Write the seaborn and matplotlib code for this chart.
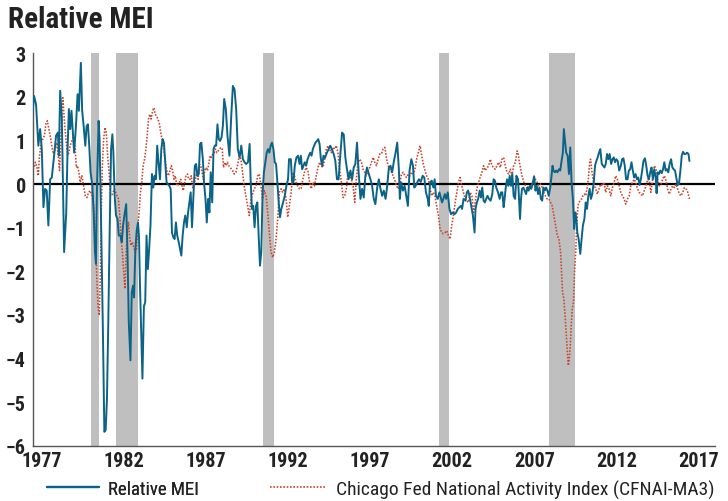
import numpy as np
import pandas as pd
import seaborn as sns
import matplotlib.pyplot as plt
from matplotlib import font_manager
from matplotlib.lines import Line2D

# Relative MEI (monthly)
mei_year = [1976.45, 1976.53, 1976.65, 1976.79, 1976.90, 1977.00, 1977.10, 1977.20, 1977.30, 1977.40,
            1977.51, 1977.61, 1977.75, 1977.87, 1977.98, 1978.04, 1978.12, 1978.22, 1978.36, 1978.49,
            1978.57, 1978.65, 1978.73, 1978.81, 1978.89, 1978.97, 1979.08, 1979.18, 1979.26, 1979.38,
            1979.46, 1979.55, 1979.65, 1979.73, 1979.81, 1979.89, 1979.97, 1980.08, 1980.16, 1980.24,
            1980.30, 1980.36, 1980.46, 1980.52, 1980.63, 1980.73, 1980.81, 1980.89, 1980.97, 1981.05,
            1981.14, 1981.22, 1981.30, 1981.36, 1981.44, 1981.52, 1981.61, 1981.69, 1981.79, 1981.87,
            1981.95, 1982.03, 1982.14, 1982.22, 1982.30, 1982.40, 1982.48, 1982.56, 1982.62, 1982.70,
            1982.78, 1982.86, 1982.92, 1982.98, 1983.05, 1983.13, 1983.22, 1983.30, 1983.38, 1983.46,
            1983.54, 1983.62, 1983.71, 1983.79, 1983.87, 1983.95, 1984.03, 1984.11, 1984.20, 1984.28,
            1984.36, 1984.44, 1984.52, 1984.60, 1984.68, 1984.77, 1984.85, 1984.93, 1985.01, 1985.09,
            1985.17, 1985.25, 1985.34, 1985.42, 1985.50, 1985.58, 1985.66, 1985.74, 1985.83, 1985.91,
            1985.99, 1986.07, 1986.15, 1986.23, 1986.32, 1986.40, 1986.48, 1986.56, 1986.64, 1986.72,
            1986.81, 1986.89, 1986.97, 1987.05, 1987.13, 1987.21, 1987.29, 1987.38, 1987.46, 1987.54,
            1987.62, 1987.70, 1987.78, 1987.86, 1987.95, 1988.03, 1988.11, 1988.21, 1988.31, 1988.43,
            1988.54, 1988.64, 1988.74, 1988.84, 1988.94, 1989.05, 1989.15, 1989.25, 1989.35, 1989.45,
            1989.56, 1989.66, 1989.72, 1989.80, 1989.88, 1989.96, 1990.05, 1990.13, 1990.21, 1990.29,
            1990.37, 1990.45, 1990.53, 1990.62, 1990.70, 1990.78, 1990.86, 1990.94, 1991.02, 1991.11,
            1991.19, 1991.27, 1991.35, 1991.43, 1991.51, 1991.59, 1991.70, 1991.80, 1991.90, 1992.00,
            1992.06, 1992.17, 1992.25, 1992.33, 1992.41, 1992.51, 1992.61, 1992.70, 1992.78, 1992.86,
            1992.94, 1993.02, 1993.10, 1993.19, 1993.27, 1993.35, 1993.43, 1993.51, 1993.59, 1993.67,
            1993.76, 1993.84, 1993.92, 1994.00, 1994.08, 1994.16, 1994.25, 1994.37, 1994.47, 1994.57,
            1994.67, 1994.78, 1994.88, 1994.98, 1995.08, 1995.18, 1995.29, 1995.39, 1995.49, 1995.59,
            1995.69, 1995.80, 1995.90, 1996.00, 1996.10, 1996.20, 1996.30, 1996.41, 1996.51, 1996.61,
            1996.71, 1996.81, 1996.92, 1997.02, 1997.12, 1997.22, 1997.32, 1997.43, 1997.53, 1997.63,
            1997.73, 1997.83, 1997.94, 1998.04, 1998.14, 1998.24, 1998.34, 1998.45, 1998.55, 1998.65,
            1998.75, 1998.81, 1998.89, 1999.00, 1999.10, 1999.20, 1999.30, 1999.40, 1999.51, 1999.61,
            1999.69, 1999.77, 1999.87, 1999.97, 2000.08, 2000.20, 2000.30, 2000.40, 2000.51, 2000.57,
            2000.65, 2000.75, 2000.85, 2000.93, 2001.01, 2001.12, 2001.22, 2001.32, 2001.38, 2001.46,
            2001.55, 2001.63, 2001.73, 2001.83, 2001.93, 2002.03, 2002.14, 2002.24, 2002.34, 2002.44,
            2002.54, 2002.60, 2002.69, 2002.81, 2002.89, 2002.97, 2003.05, 2003.16, 2003.26, 2003.36,
            2003.42, 2003.50, 2003.58, 2003.67, 2003.75, 2003.83, 2003.91, 2003.99, 2004.07, 2004.15,
            2004.24, 2004.34, 2004.44, 2004.52, 2004.60, 2004.68, 2004.79, 2004.89, 2004.97, 2005.05,
            2005.13, 2005.19, 2005.26, 2005.34, 2005.42, 2005.50, 2005.58, 2005.66, 2005.74, 2005.83,
            2005.91, 2006.01, 2006.13, 2006.19, 2006.25, 2006.33, 2006.42, 2006.50, 2006.58, 2006.66,
            2006.74, 2006.82, 2006.91, 2006.99, 2007.07, 2007.15, 2007.23, 2007.31, 2007.40, 2007.48,
            2007.56, 2007.64, 2007.72, 2007.80, 2007.88, 2007.97, 2008.05, 2008.11, 2008.17, 2008.25,
            2008.33, 2008.41, 2008.50, 2008.58, 2008.66, 2008.74, 2008.80, 2008.86, 2008.94, 2009.03,
            2009.11, 2009.19, 2009.27, 2009.35, 2009.43, 2009.50, 2009.56, 2009.62, 2009.70, 2009.80,
            2009.88, 2009.96, 2010.05, 2010.13, 2010.21, 2010.29, 2010.37, 2010.45, 2010.53, 2010.62,
            2010.70, 2010.78, 2010.86, 2010.94, 2011.02, 2011.11, 2011.19, 2011.27, 2011.35, 2011.43,
            2011.51, 2011.59, 2011.68, 2011.76, 2011.84, 2011.92, 2012.00, 2012.08, 2012.17, 2012.27,
            2012.35, 2012.43, 2012.51, 2012.59, 2012.68, 2012.76, 2012.84, 2012.92, 2013.00, 2013.08,
            2013.17, 2013.25, 2013.33, 2013.41, 2013.49, 2013.57, 2013.65, 2013.74, 2013.82, 2013.90,
            2013.98, 2014.06, 2014.14, 2014.22, 2014.31, 2014.39, 2014.45, 2014.51, 2014.59, 2014.67,
            2014.76, 2014.84, 2014.92, 2015.00, 2015.08, 2015.16, 2015.24, 2015.33, 2015.41, 2015.49,
            2015.57, 2015.65, 2015.73, 2015.81, 2015.90, 2015.98, 2016.06, 2016.14, 2016.22, 2016.30,
            2016.39, 2016.45]
mei_val = [1.68, 2.02, 1.83, 0.88, 1.26, 0.80, -0.53, -0.11, -0.15, -0.95,
           0.11, 0.15, 0.65, 1.11, 1.18, 0.65, 2.14, 1.53, -1.56, -0.65,
           0.80, 1.72, 1.26, 1.68, 1.18, 0.72, 1.33, 2.06, 1.68, 2.78,
           1.68, 1.33, 0.88, 1.33, 1.37, 0.88, 0.27, -0.04, -0.65, -1.56,
           -1.83, -0.11, 1.45, 1.03, -1.26, -3.55, -5.68, -5.64, -4.92, -3.17,
           -0.95, 0.80, 1.14, 0.72, -0.27, -0.72, -0.80, -1.18, -1.18, -1.33,
           -0.95, -0.72, -0.46, -1.56, -3.17, -4.04, -2.48, -2.33, -2.60, -1.50,
           -1.07, -0.88, -1.20, -2.30, -3.30, -4.46, -2.80, -2.71, -1.18, -1.95,
           -1.49, -0.95, 0.23, -0.08, 0.19, 0.11, 0.88, 0.50, 0.11, 0.80,
           1.03, 0.95, 0.50, 0.04, 0.00, -0.04, -0.11, -1.11, -1.22, -1.26,
           -0.88, -1.18, -1.33, -1.49, -1.64, -1.18, -0.88, -0.72, -0.99, -0.65,
           -0.42, -0.19, -0.99, -0.34, 0.42, 0.46, 0.19, 0.23, 0.92, 0.95,
           0.57, 0.00, -0.34, -0.88, -0.34, -0.65, 0.27, -0.42, 0.80, 0.88,
           0.88, 1.37, 1.03, 0.99, 1.07, 1.33, 1.95, 1.72, 1.11, 0.65,
           1.56, 2.25, 2.17, 1.72, 0.80, 0.61, 0.88, 0.57, 0.50, 0.46,
           0.50, 0.92, 0.11, -0.57, -0.50, -0.99, -0.50, -0.42, -1.18, -1.87,
           -1.56, -0.19, 0.27, 0.50, 0.72, 0.80, 0.72, 0.88, 0.95, 0.80,
           0.50, 0.46, 0.04, -0.42, -0.76, -0.57, -0.42, -0.27, -0.04, 0.11,
           0.57, 0.57, 0.04, 0.04, 0.42, 0.61, 0.65, 0.46, 0.65, 0.34,
           0.42, 0.50, 0.42, 0.57, 0.65, 0.72, 0.65, 0.80, 0.88, 0.95,
           0.99, 1.03, 0.92, 0.57, 0.42, 0.65, 0.60, 0.72, 0.80, 0.88,
           0.80, 0.69, 0.53, 0.11, 0.11, 0.65, 1.18, 1.14, 0.61, 0.34,
           0.11, 0.31, 0.11, 0.38, 0.46, 0.95, 0.27, -0.34, -0.11, -0.31,
           0.19, 0.38, 0.23, 0.11, -0.04, -0.34, -0.46, -0.08, 0.11, -0.11,
           -0.27, -0.15, -0.34, -0.04, 0.38, 0.42, 0.27, 0.53, 0.72, 0.95,
           0.34, -0.34, 0.04, -0.15, -0.04, -0.27, -0.50, 0.31, 0.57, 0.42,
           -0.08, -0.04, 0.04, 0.11, 0.05, 0.19, 0.15, -0.19, -0.34, -0.50,
           0.04, 0.08, -0.08, 0.11, -0.27, -0.34, -0.19, -0.34, -0.42, -0.34,
           -0.23, -0.34, -0.19, -0.57, -0.69, -0.65, -0.69, -0.65, -0.57, -0.53,
           -0.50, -0.57, -0.34, -0.38, -0.19, -0.15, -0.27, -0.50, -0.72, -1.11,
           -0.57, -0.42, -0.34, -0.15, -0.31, -0.08, -0.38, -0.42, -0.34, -0.27,
           -0.34, -0.38, -0.23, 0.11, 0.08, -0.08, -0.19, -0.34, -0.19, -0.19,
           -0.53, -0.34, -0.08, 0.11, -0.04, 0.19, -0.04, 0.23, -0.27, -0.34,
           0.19, 0.11, -0.80, -0.34, -0.11, -0.08, -0.15, -0.23, -0.08, -0.15,
           -0.04, -0.11, 0.04, 0.18, -0.15, -0.04, -0.23, -0.08, -0.34, -0.38,
           -0.08, -0.15, -0.08, -0.15, -0.27, -0.08, 0.19, 0.42, 0.31, 0.27,
           0.31, 0.27, 0.34, 0.31, 0.53, 0.72, 1.26, 1.03, 0.72, 0.65,
           0.23, 0.84, 0.04, -0.34, -1.03, -0.65, -0.80, -1.11, -1.26, -1.60,
           -1.26, -0.95, -0.80, -0.42, -0.57, -0.27, -0.11, -0.34, -0.23, 0.04,
           0.42, 0.53, 0.61, 0.72, 0.80, 0.46, 0.42, 0.38, 0.46, 0.69,
           0.57, 0.69, 0.46, 0.57, 0.61, 0.50, 0.57, 0.53, 0.31, 0.42,
           0.57, 0.59, 0.42, 0.11, 0.11, 0.31, 0.34, 0.50, 0.31, 0.15,
           0.23, 0.11, 0.15, -0.02, 0.11, 0.31, 0.53, 0.59, 0.42, 0.19,
           0.11, 0.27, 0.38, 0.11, 0.34, 0.15, -0.21, 0.27, 0.23, 0.31,
           0.25, 0.34, 0.50, 0.31, 0.34, 0.27, 0.46, 0.57, 0.38, 0.34,
           0.31, 0.15, -0.02, 0.00, 0.31, 0.65, 0.74, 0.69, 0.69, 0.72,
           0.69, 0.53]

# Chicago Fed National Activity Index, 3-month average
cfnai_year = [1976.45, 1976.53, 1976.61, 1976.69, 1976.79, 1976.85, 1976.96, 1977.06, 1977.16, 1977.26,
              1977.34, 1977.43, 1977.51, 1977.61, 1977.71, 1977.81, 1977.92, 1978.02, 1978.08, 1978.16,
              1978.22, 1978.28, 1978.34, 1978.40, 1978.49, 1978.57, 1978.65, 1978.73, 1978.83, 1978.93,
              1979.04, 1979.10, 1979.18, 1979.26, 1979.34, 1979.44, 1979.55, 1979.65, 1979.75, 1979.85,
              1979.95, 1980.06, 1980.16, 1980.26, 1980.34, 1980.42, 1980.50, 1980.57, 1980.63, 1980.69,
              1980.77, 1980.85, 1980.93, 1981.01, 1981.10, 1981.18, 1981.26, 1981.34, 1981.42, 1981.50,
              1981.58, 1981.67, 1981.75, 1981.83, 1981.91, 1981.99, 1982.07, 1982.14, 1982.20, 1982.28,
              1982.36, 1982.44, 1982.52, 1982.60, 1982.69, 1982.77, 1982.85, 1982.93, 1983.01, 1983.09,
              1983.17, 1983.26, 1983.34, 1983.42, 1983.50, 1983.58, 1983.66, 1983.75, 1983.83, 1983.91,
              1983.99, 1984.07, 1984.15, 1984.23, 1984.32, 1984.40, 1984.48, 1984.56, 1984.64, 1984.72,
              1984.81, 1984.89, 1984.97, 1985.05, 1985.13, 1985.21, 1985.30, 1985.38, 1985.46, 1985.54,
              1985.62, 1985.70, 1985.79, 1985.87, 1985.95, 1986.03, 1986.11, 1986.19, 1986.27, 1986.36,
              1986.44, 1986.52, 1986.60, 1986.68, 1986.76, 1986.84, 1986.93, 1987.01, 1987.09, 1987.17,
              1987.25, 1987.33, 1987.42, 1987.50, 1987.58, 1987.66, 1987.74, 1987.82, 1987.91, 1987.99,
              1988.07, 1988.15, 1988.23, 1988.31, 1988.39, 1988.48, 1988.62, 1988.72, 1988.82, 1988.92,
              1989.03, 1989.13, 1989.23, 1989.33, 1989.43, 1989.54, 1989.64, 1989.74, 1989.84, 1989.94,
              1990.05, 1990.15, 1990.25, 1990.35, 1990.45, 1990.56, 1990.66, 1990.76, 1990.86, 1990.96,
              1991.07, 1991.17, 1991.27, 1991.37, 1991.47, 1991.58, 1991.68, 1991.78, 1991.88, 1991.98,
              1992.08, 1992.19, 1992.29, 1992.39, 1992.49, 1992.59, 1992.70, 1992.80, 1992.90, 1993.00,
              1993.10, 1993.21, 1993.31, 1993.41, 1993.51, 1993.61, 1993.72, 1993.82, 1993.92, 1994.02,
              1994.12, 1994.23, 1994.33, 1994.43, 1994.53, 1994.63, 1994.73, 1994.84, 1994.94, 1995.04,
              1995.14, 1995.25, 1995.35, 1995.45, 1995.55, 1995.65, 1995.75, 1995.86, 1995.96, 1996.06,
              1996.16, 1996.26, 1996.37, 1996.47, 1996.57, 1996.67, 1996.77, 1996.88, 1996.98, 1997.08,
              1997.18, 1997.28, 1997.39, 1997.49, 1997.59, 1997.69, 1997.79, 1997.90, 1998.00, 1998.10,
              1998.20, 1998.30, 1998.40, 1998.51, 1998.61, 1998.71, 1998.81, 1998.91, 1999.02, 1999.12,
              1999.22, 1999.32, 1999.42, 1999.53, 1999.63, 1999.73, 1999.83, 1999.93, 2000.04, 2000.14,
              2000.24, 2000.34, 2000.44, 2000.55, 2000.65, 2000.75, 2000.85, 2000.95, 2001.05, 2001.16,
              2001.26, 2001.36, 2001.46, 2001.57, 2001.67, 2001.77, 2001.87, 2001.97, 2002.07, 2002.18,
              2002.28, 2002.38, 2002.48, 2002.58, 2002.79, 2002.99, 2003.09, 2003.20, 2003.30, 2003.40,
              2003.50, 2003.60, 2003.81, 2003.91, 2004.01, 2004.22, 2004.32, 2004.42, 2004.62, 2004.83,
              2004.93, 2005.03, 2005.13, 2005.23, 2005.34, 2005.44, 2005.54, 2005.64, 2005.74, 2005.85,
              2005.95, 2006.01, 2006.09, 2006.17, 2006.25, 2006.36, 2006.46, 2006.56, 2006.66, 2006.76,
              2006.86, 2006.97, 2007.07, 2007.17, 2007.27, 2007.38, 2007.48, 2007.58, 2007.68, 2007.78,
              2007.89, 2007.99, 2008.09, 2008.19, 2008.29, 2008.40, 2008.50, 2008.60, 2008.66, 2008.72,
              2008.80, 2008.86, 2008.94, 2009.01, 2009.07, 2009.13, 2009.19, 2009.25, 2009.31, 2009.39,
              2009.45, 2009.52, 2009.58, 2009.66, 2009.72, 2009.80, 2009.88, 2009.96, 2010.05, 2010.13,
              2010.21, 2010.29, 2010.37, 2010.43, 2010.49, 2010.58, 2010.66, 2010.74, 2010.84, 2010.94,
              2011.04, 2011.15, 2011.25, 2011.35, 2011.45, 2011.55, 2011.66, 2011.76, 2011.86, 2011.96,
              2012.06, 2012.17, 2012.27, 2012.37, 2012.47, 2012.57, 2012.68, 2012.78, 2012.88, 2012.98,
              2013.08, 2013.18, 2013.29, 2013.39, 2013.49, 2013.59, 2013.70, 2013.80, 2013.90, 2014.00,
              2014.10, 2014.21, 2014.31, 2014.41, 2014.51, 2014.61, 2014.71, 2014.82, 2014.92, 2015.02,
              2015.12, 2015.22, 2015.33, 2015.43, 2015.53, 2015.63, 2015.73, 2015.84, 2015.94, 2016.04,
              2016.14, 2016.24, 2016.35, 2016.45]
cfnai_val = [0.34, 0.38, 0.50, 0.42, 0.19, 0.61, 0.95, 1.03, 1.11, 1.41,
             1.45, 1.26, 1.11, 0.88, 0.69, 0.80, 0.95, 0.57, 0.31, 1.03,
             1.64, 1.98, 1.64, 1.33, 0.95, 0.65, 0.72, 0.88, 0.99, 1.07,
             0.80, 0.38, 0.42, 0.27, 0.04, 0.19, -0.04, -0.27, -0.31, -0.19,
             -0.15, -0.27, -0.50, -1.11, -2.02, -2.78, -3.01, -2.02, -0.50, 0.42,
             1.03, 1.30, 1.18, 0.65, 0.27, -0.27, -0.27, -0.19, -0.11, -0.19,
             -0.27, -0.34, -0.72, -1.26, -1.56, -2.02, -2.40, -1.56, -1.18, -0.88,
             -1.26, -1.41, -1.33, -1.45, -1.56, -1.49, -0.95, -0.65, -0.19, 0.04,
             0.42, 0.57, 0.80, 1.11, 1.49, 1.60, 1.49, 1.68, 1.75, 1.60,
             1.56, 1.49, 1.41, 1.22, 1.03, 0.88, 0.65, 0.42, 0.27, 0.19,
             0.31, 0.42, 0.31, 0.11, 0.19, 0.00, -0.04, 0.04, 0.11, -0.04,
             -0.15, 0.04, 0.19, 0.23, 0.11, 0.11, 0.19, -0.08, 0.00, 0.11,
             0.27, 0.11, 0.46, 0.42, 0.27, 0.11, 0.31, 0.38, 0.31, 0.46,
             0.65, 0.61, 0.69, 0.72, 0.80, 0.72, 0.76, 0.80, 0.84, 0.80,
             0.38, 0.50, 0.42, 0.50, 0.42, 0.38, 0.31, 0.23, 0.27, 0.42,
             0.65, 0.57, 0.27, -0.04, -0.27, -0.50, -0.72, -0.34, -0.23, -0.11,
             -0.04, 0.19, 0.23, -0.04, -0.34, -0.15, -0.27, -0.65, -1.11, -1.56,
             -1.68, -1.56, -1.26, -0.80, -0.19, -0.11, -0.19, -0.11, -0.34, -0.76,
             -0.50, -0.19, 0.27, 0.19, 0.04, -0.04, -0.11, -0.11, 0.11, 0.27,
             0.38, 0.31, 0.04, -0.11, 0.04, -0.04, 0.19, 0.38, 0.50, 0.42,
             0.38, 0.57, 0.80, 0.88, 0.80, 0.72, 0.84, 0.80, 0.88, 0.72,
             0.34, 0.04, -0.31, -0.27, -0.11, 0.27, 0.19, 0.11, -0.04, -0.42,
             0.11, 0.50, 0.57, 0.50, 0.34, 0.27, 0.19, 0.34, 0.38, 0.50,
             0.61, 0.50, 0.42, 0.57, 0.69, 0.69, 0.80, 0.84, 0.57, 0.42,
             0.34, 0.27, 0.19, 0.08, -0.04, -0.11, 0.04, 0.23, 0.27, 0.19,
             0.15, 0.23, 0.19, 0.27, 0.23, 0.34, 0.57, 0.72, 0.88, 0.65,
             0.46, 0.31, 0.19, 0.11, -0.11, -0.27, -0.19, -0.27, -0.50, -0.72,
             -1.03, -1.11, -1.14, -1.11, -1.07, -1.18, -1.26, -0.95, -0.72, -0.42,
             -0.19, 0.04, 0.15, -0.04, -0.34, -0.42, -0.19, -0.27, -0.65, -0.42,
             -0.11, 0.04, 0.27, 0.42, 0.31, 0.42, 0.57, 0.42, 0.34, 0.50,
             0.38, 0.57, 0.61, 0.42, 0.27, 0.23, 0.34, 0.19, 0.42, 0.50,
             0.76, 0.72, 0.50, 0.34, 0.19, 0.04, -0.04, -0.11, -0.04, -0.11,
             0.00, 0.04, 0.11, 0.04, -0.04, 0.00, -0.08, -0.19, -0.27, -0.34,
             -0.34, -0.42, -0.50, -0.72, -0.95, -1.18, -1.26, -1.56, -2.02, -2.48,
             -2.63, -2.94, -3.40, -3.78, -4.16, -4.01, -3.70, -3.24, -2.86, -2.71,
             -2.02, -1.56, -0.95, -0.50, -0.42, -0.38, -0.34, -0.27, -0.23, -0.27,
             -0.11, 0.11, 0.50, 0.57, 0.34, 0.11, -0.04, -0.11, -0.23, -0.11,
             0.00, -0.04, 0.04, -0.19, -0.04, -0.11, -0.27, -0.08, 0.04, 0.19,
             0.11, -0.04, -0.19, -0.27, -0.34, -0.46, -0.34, -0.27, -0.04, 0.04,
             0.11, 0.04, -0.11, -0.19, -0.23, -0.27, -0.15, -0.04, 0.11, 0.08,
             -0.19, 0.11, 0.42, 0.34, 0.11, -0.04, 0.00, 0.11, 0.19, 0.08,
             -0.11, -0.23, -0.11, -0.04, -0.08, 0.00, -0.11, -0.23, -0.27, -0.19,
             -0.08, -0.11, -0.19, -0.34]

# NBER recessions
rec_start = [1980.00, 1981.50, 1990.50, 2001.17, 2007.92]
rec_end = [1980.50, 1982.83, 1991.17, 2001.83, 2009.50]

x_ticks = [1977, 1982, 1987, 1992, 1997, 2002, 2007, 2012, 2017]
y_ticks = [-6, -5, -4, -3, -2, -1, 0, 1, 2, 3]

mei_color = "#0b6488"
cfnai_color = "#c9442c"

sns.set_style("white")

# pick a condensed face if one is installed
font_family = ['DejaVu Sans']
font_stretch = 'normal'
for fam in ['Liberation Sans Narrow', 'Roboto Condensed', 'Open Sans Condensed']:
    try:
        font_manager.findfont(font_manager.FontProperties(family=fam), fallback_to_default=False)
        font_family = [fam, 'DejaVu Sans']
        break
    except Exception:
        pass
else:
    p = font_manager.findfont(font_manager.FontProperties(family='DejaVu Sans', stretch='condensed'))
    if 'Condensed' in p:
        font_stretch = 'condensed'
    else:
        font_family = ['Roboto', 'DejaVu Sans']
        font_stretch = 'condensed'
plt.rcParams['font.family'] = font_family
plt.rcParams['font.stretch'] = font_stretch

fig = plt.figure(figsize=(7.28, 5.02), dpi=100)
ax = fig.add_axes([0.045, 0.11, 0.937, 0.782])

for s, e in zip(rec_start, rec_end):
    ax.axvspan(s, e, color="#bfbfbf", lw=0, zorder=0)

ax.axhline(0, color="black", lw=1.6, zorder=1)

df_mei = pd.DataFrame({"year": mei_year, "value": mei_val})
df_cf = pd.DataFrame({"year": cfnai_year, "value": cfnai_val})
sns.lineplot(data=df_cf, x="year", y="value", ax=ax, color=cfnai_color, lw=1.15,
             linestyle=(0, (1, 1)), estimator=None, sort=False, zorder=2)
sns.lineplot(data=df_mei, x="year", y="value", ax=ax, color=mei_color, lw=1.4,
             estimator=None, sort=False, zorder=3)

ax.set_xlim(1976.45, 2018.0)
ax.set_ylim(-6, 3)
ax.set_xticks(x_ticks)
ax.set_yticks(y_ticks)
ax.set_xlabel("")
ax.set_ylabel("")
for sp in ["top", "right"]:
    ax.spines[sp].set_visible(False)
for sp in ["left", "bottom"]:
    ax.spines[sp].set_color("#555555")
    ax.spines[sp].set_linewidth(1.0)
ax.tick_params(axis="both", direction="in", length=5, width=1, color="#555555",
               labelsize=14.5, labelcolor="#222222")
ax.tick_params(axis="x", pad=4)
ax.tick_params(axis="y", pad=5)
for lab in ax.get_xticklabels() + ax.get_yticklabels():
    lab.set_fontweight("bold")

fig.text(0.011, 0.96, "Relative MEI", fontsize=21, fontweight="bold",
         color="#222222", va="center", ha="left")

# two single-entry legends so each sits where the reference puts it
leg1 = fig.legend([Line2D([], [], color=mei_color, lw=1.6)], ["Relative MEI"],
                  loc="center left", bbox_to_anchor=(0.064, 0.024), frameon=False,
                  fontsize=13.5, handlelength=2.8, handletextpad=0.5,
                  borderpad=0, borderaxespad=0, labelcolor="#222222")
leg2 = fig.legend([Line2D([], [], color=cfnai_color, lw=1.2, linestyle=(0, (1, 1)))],
                  ["Chicago Fed National Activity Index (CFNAI-MA3)"],
                  loc="center left", bbox_to_anchor=(0.371, 0.024), frameon=False,
                  fontsize=14, handlelength=2.9, handletextpad=0.5,
                  borderpad=0, borderaxespad=0, labelcolor="#222222")
fig.add_artist(leg1)

fig.savefig("out.png", dpi=100)
